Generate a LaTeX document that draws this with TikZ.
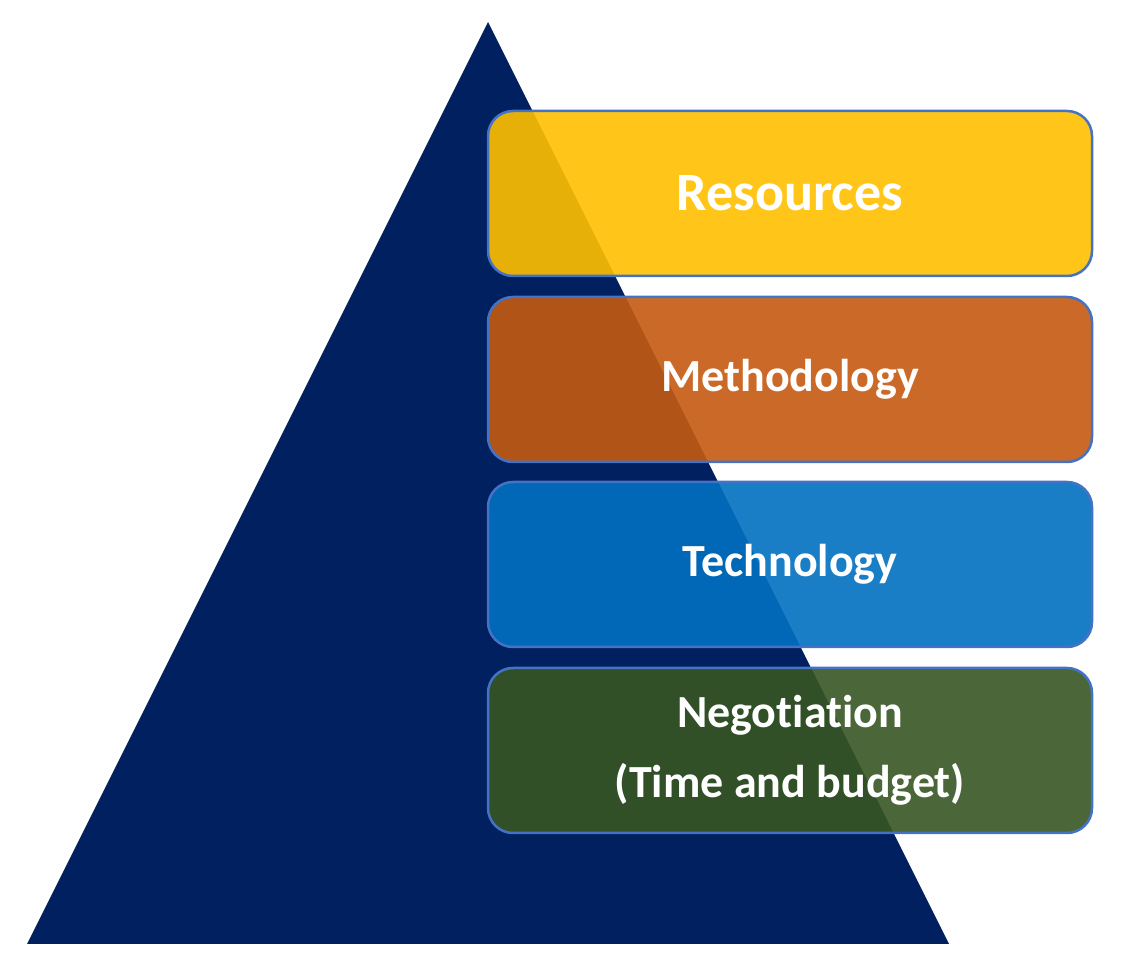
\documentclass[tikz,border=0pt]{standalone}
\usepackage{fontspec}
\setmainfont{Carlito}[Ligatures=NoCommon]
\usepackage{tikz}

\definecolor{navy}{HTML}{002060}
\definecolor{boxline}{HTML}{4472C4}
\definecolor{resyellow}{HTML}{FFC000}
\definecolor{metorange}{HTML}{C55A11}
\definecolor{techblue}{HTML}{0070C0}
\definecolor{neggreen}{HTML}{375623}

\begin{document}
\begin{tikzpicture}[x=1pt, y=1pt,
		box/.style={draw=boxline, line width=2.5pt, rounded corners=25pt,
			fill opacity=0.9, text opacity=1, text=white, inner sep=0pt,
			minimum width=604pt, minimum height=165pt, align=center,
			font=\bfseries\fontsize{46}{70}\selectfont}]
			\useasboundingbox (0,0) rectangle (1125,967);
			\coordinate (A) at (488,945);
			\coordinate (B) at (27,23);
			\coordinate (C) at (949,23);
			\fill[navy] (A)--(B)--(C)--cycle;
			\node[box, fill=resyellow, font=\bfseries\fontsize{54}{70}\selectfont] (res) at (790,773.5) {Resources};
			\node[box, fill=metorange] (met) at (790,587.5) {Methodology};
			\node[box, fill=techblue] (tech) at (790,402.5) {Technology};
			\node[box, fill=neggreen] (neg) at (790,216.5) {Negotiation\\(Time and budget)};
		\end{tikzpicture}
\end{document}
